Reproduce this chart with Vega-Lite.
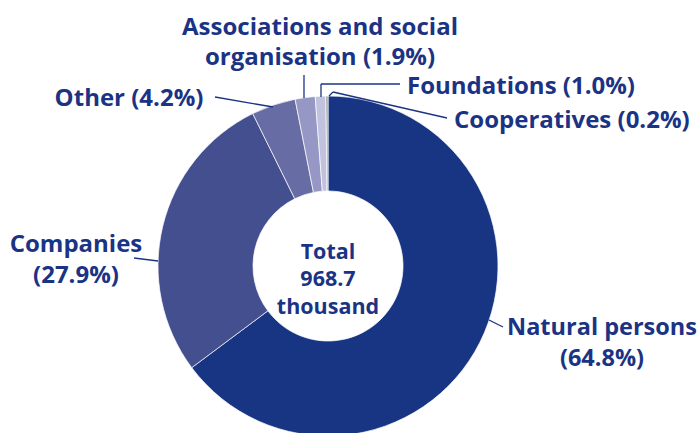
{
  "$schema": "https://vega.github.io/schema/vega-lite/v6.json",
  "width": 656,
  "height": 334,
  "autosize": "none",
  "padding": {"left": 0, "top": 99, "right": 43, "bottom": 0},
  "background": "white",
  "config": {"view": {"stroke": null}},
  "data": {
    "values": [
      {"category": "Natural persons", "share": 64.8, "label": ["Natural persons", "(64.8%)"]},
      {"category": "Companies", "share": 27.9, "label": ["Companies", "(27.9%)"]},
      {"category": "Other", "share": 4.2, "label": "Other (4.2%)"},
      {"category": "Associations and social organisation", "share": 1.9, "label": ["Associations and social", "organisation (1.9%)"]},
      {"category": "Foundations", "share": 1.0, "label": "Foundations (1.0%)"},
      {"category": "Cooperatives", "share": 0.2, "label": "Cooperatives (0.2%)"}
    ]
  },
  "layer": [
    {
      "mark": {"type": "arc", "outerRadius": 170, "innerRadius": 75, "stroke": "white", "strokeWidth": 0.7},
      "encoding": {
        "theta": {"field": "share", "type": "quantitative", "stack": true},
        "order": {"field": "share", "sort": "descending"},
        "color": {
          "field": "category",
          "type": "nominal",
          "legend": null,
          "scale": {
            "domain": ["Natural persons", "Companies", "Other", "Associations and social organisation", "Foundations", "Cooperatives"],
            "range": ["#173583", "#434f8f", "#686ca5", "#9697c4", "#c1c3de", "#9a9a9a"]
          }
        }
      }
    },
    {
      "data": {"values": [{"label": ["Total", "968.7", "thousand"]}]},
      "mark": {"type": "text", "font": "Open Sans", "fontWeight": "bold", "fontSize": 21.5, "lineHeight": 27.5, "align": "center", "baseline": "alphabetic", "color": "#1b3384"},
      "encoding": {
        "x": {"datum": 0, "type": "quantitative", "axis": null, "scale": {"domain": [-1.9294, 1.9294], "nice": false, "zero": false}},
        "y": {"datum": 0.0441, "type": "quantitative", "axis": null, "scale": {"domain": [-0.98235, 0.98235], "nice": false, "zero": false}},
        "text": {"field": "label"}
      }
    },
    {
      "transform": [{"filter": "datum.category === 'Natural persons'"}],
      "mark": {"type": "text", "font": "Open Sans", "fontWeight": "bold", "fontSize": 23.5, "lineHeight": 31, "align": "center", "baseline": "alphabetic", "color": "#1b3384"},
      "encoding": {
        "x": {"datum": 1.6118, "type": "quantitative", "axis": null},
        "y": {"datum": -0.4059, "type": "quantitative", "axis": null},
        "text": {"field": "label"}
      }
    },
    {
      "transform": [{"filter": "datum.category === 'Companies'"}],
      "mark": {"type": "text", "font": "Open Sans", "fontWeight": "bold", "fontSize": 24, "lineHeight": 31, "align": "center", "baseline": "alphabetic", "color": "#1b3384"},
      "encoding": {
        "x": {"datum": -1.4824, "type": "quantitative", "axis": null},
        "y": {"datum": 0.0824, "type": "quantitative", "axis": null},
        "text": {"field": "label"}
      }
    },
    {
      "transform": [{"filter": "datum.category === 'Other'"}],
      "mark": {"type": "text", "font": "Open Sans", "fontWeight": "bold", "fontSize": 24, "align": "center", "baseline": "alphabetic", "color": "#1b3384"},
      "encoding": {
        "x": {"datum": -1.1706, "type": "quantitative", "axis": null},
        "y": {"datum": 0.9412, "type": "quantitative", "axis": null},
        "text": {"field": "label"}
      }
    },
    {
      "transform": [{"filter": "datum.category === 'Associations and social organisation'"}],
      "mark": {"type": "text", "font": "Open Sans", "fontWeight": "bold", "fontSize": 24, "lineHeight": 30, "align": "center", "baseline": "alphabetic", "color": "#1b3384"},
      "encoding": {
        "x": {"datum": -0.0471, "type": "quantitative", "axis": null},
        "y": {"datum": 1.3588, "type": "quantitative", "axis": null},
        "text": {"field": "label"}
      }
    },
    {
      "transform": [{"filter": "datum.category === 'Foundations'"}],
      "mark": {"type": "text", "font": "Open Sans", "fontWeight": "bold", "fontSize": 24, "align": "left", "baseline": "alphabetic", "color": "#1b3384"},
      "encoding": {
        "x": {"datum": 0.4647, "type": "quantitative", "axis": null},
        "y": {"datum": 1.0118, "type": "quantitative", "axis": null},
        "text": {"field": "label"}
      }
    },
    {
      "transform": [{"filter": "datum.category === 'Cooperatives'"}],
      "mark": {"type": "text", "font": "Open Sans", "fontWeight": "bold", "fontSize": 24, "align": "left", "baseline": "alphabetic", "color": "#1b3384"},
      "encoding": {
        "x": {"datum": 0.7412, "type": "quantitative", "axis": null},
        "y": {"datum": 0.8118, "type": "quantitative", "axis": null},
        "text": {"field": "label"}
      }
    },
    {
      "transform": [{"filter": "datum.category === 'Natural persons'"}],
      "mark": {"type": "rule", "color": "#1b3384", "strokeWidth": 1.3},
      "encoding": {
        "x": {"datum": 0.9471, "type": "quantitative", "axis": null},
        "y": {"datum": -0.3176, "type": "quantitative", "axis": null},
        "x2": {"datum": 1.0294},
        "y2": {"datum": -0.3588}
      }
    },
    {
      "transform": [{"filter": "datum.category === 'Companies'"}],
      "mark": {"type": "rule", "color": "#1b3384", "strokeWidth": 1.3},
      "encoding": {
        "x": {"datum": -1.1412, "type": "quantitative", "axis": null},
        "y": {"datum": 0.0471, "type": "quantitative", "axis": null},
        "x2": {"datum": -1.0},
        "y2": {"datum": 0.0294}
      }
    },
    {
      "transform": [{"filter": "datum.category === 'Other'"}],
      "mark": {"type": "rule", "color": "#1b3384", "strokeWidth": 1.3},
      "encoding": {
        "x": {"datum": -0.6647, "type": "quantitative", "axis": null},
        "y": {"datum": 0.9941, "type": "quantitative", "axis": null},
        "x2": {"datum": -0.3235},
        "y2": {"datum": 0.9353}
      }
    },
    {
      "transform": [{"filter": "datum.category === 'Associations and social organisation'"}],
      "mark": {"type": "rule", "color": "#1b3384", "strokeWidth": 1.3},
      "encoding": {
        "x": {"datum": -0.1412, "type": "quantitative", "axis": null},
        "y": {"datum": 1.1235, "type": "quantitative", "axis": null},
        "x2": {"datum": -0.1412},
        "y2": {"datum": 0.9882}
      }
    },
    {
      "transform": [{"filter": "datum.category === 'Foundations'"}],
      "mark": {"type": "rule", "color": "#1b3384", "strokeWidth": 1.3},
      "encoding": {
        "x": {"datum": 0.4235, "type": "quantitative", "axis": null},
        "y": {"datum": 1.0706, "type": "quantitative", "axis": null},
        "x2": {"datum": -0.0412},
        "y2": {"datum": 1.0706}
      }
    },
    {
      "transform": [{"filter": "datum.category === 'Foundations'"}],
      "mark": {"type": "rule", "color": "#1b3384", "strokeWidth": 1.3},
      "encoding": {
        "x": {"datum": -0.0412, "type": "quantitative", "axis": null},
        "y": {"datum": 1.0706, "type": "quantitative", "axis": null},
        "x2": {"datum": -0.0412},
        "y2": {"datum": 0.9941}
      }
    },
    {
      "transform": [{"filter": "datum.category === 'Cooperatives'"}],
      "mark": {"type": "rule", "color": "#1b3384", "strokeWidth": 1.3},
      "encoding": {
        "x": {"datum": 0.7, "type": "quantitative", "axis": null},
        "y": {"datum": 0.8706, "type": "quantitative", "axis": null},
        "x2": {"datum": 0.0294},
        "y2": {"datum": 1.0235}
      }
    },
    {
      "transform": [{"filter": "datum.category === 'Cooperatives'"}],
      "mark": {"type": "rule", "color": "#1b3384", "strokeWidth": 1.3},
      "encoding": {
        "x": {"datum": 0.0294, "type": "quantitative", "axis": null},
        "y": {"datum": 1.0235, "type": "quantitative", "axis": null},
        "x2": {"datum": 0.0059},
        "y2": {"datum": 1.0}
      }
    }
  ]
}
